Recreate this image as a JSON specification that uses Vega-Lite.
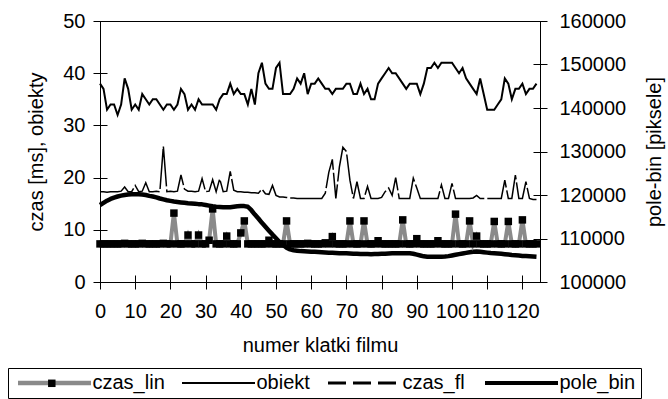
{
"$schema": "https://vega.github.io/schema/vega-lite/v6.json",
"width": 440, "height": 261,
"autosize": {"type": "none"},
"padding": {"left": 100, "top": 21, "right": 128, "bottom": 117},
"background": "white",
"config": {
  "font": "Liberation Sans",
  "view": {"stroke": "black", "strokeWidth": 1},
  "axis": {"labelFont": "Liberation Sans", "labelFontSize": 20, "titleFont": "Liberation Sans", "titleFontSize": 20, "titleFontWeight": "normal", "labelColor": "black", "titleColor": "black", "domain": false, "tickColor": "black", "tickSize": 14, "offset": -7, "grid": false, "labelPadding": 8, "labelOverlap": false, "labelFlush": false}
},
"data": {"values": [
{"f":0,"czas_lin":7.3,"obiekt":38,"czas_fl":17.3,"pole_bin":117700},
{"f":1,"czas_lin":7.3,"obiekt":37,"czas_fl":17.3,"pole_bin":118200},
{"f":2,"czas_lin":7.3,"obiekt":33,"czas_fl":17.2,"pole_bin":118700},
{"f":3,"czas_lin":7.3,"obiekt":34,"czas_fl":17.3,"pole_bin":119100},
{"f":4,"czas_lin":7.3,"obiekt":34,"czas_fl":17.3,"pole_bin":119400},
{"f":5,"czas_lin":7.3,"obiekt":32,"czas_fl":17.3,"pole_bin":119650},
{"f":6,"czas_lin":7.3,"obiekt":34,"czas_fl":17.4,"pole_bin":119850},
{"f":7,"czas_lin":7.4,"obiekt":39,"czas_fl":18.2,"pole_bin":120000},
{"f":8,"czas_lin":7.3,"obiekt":37,"czas_fl":17.3,"pole_bin":120100},
{"f":9,"czas_lin":7.3,"obiekt":33,"czas_fl":17.3,"pole_bin":120150},
{"f":10,"czas_lin":7.3,"obiekt":34,"czas_fl":18.5,"pole_bin":120160},
{"f":11,"czas_lin":7.3,"obiekt":33,"czas_fl":17.3,"pole_bin":120150},
{"f":12,"czas_lin":7.4,"obiekt":36,"czas_fl":17.4,"pole_bin":120100},
{"f":13,"czas_lin":7.3,"obiekt":35,"czas_fl":19.0,"pole_bin":120000},
{"f":14,"czas_lin":7.3,"obiekt":34,"czas_fl":17.3,"pole_bin":119800},
{"f":15,"czas_lin":7.3,"obiekt":35,"czas_fl":17.3,"pole_bin":119650},
{"f":16,"czas_lin":7.3,"obiekt":35,"czas_fl":17.4,"pole_bin":119450},
{"f":17,"czas_lin":7.3,"obiekt":34,"czas_fl":17.3,"pole_bin":119200},
{"f":18,"czas_lin":7.4,"obiekt":33,"czas_fl":26.0,"pole_bin":119000},
{"f":19,"czas_lin":7.3,"obiekt":34,"czas_fl":17.3,"pole_bin":118800},
{"f":20,"czas_lin":7.3,"obiekt":34,"czas_fl":17.4,"pole_bin":118650},
{"f":21,"czas_lin":13.2,"obiekt":33,"czas_fl":17.3,"pole_bin":118500},
{"f":22,"czas_lin":7.3,"obiekt":34,"czas_fl":17.4,"pole_bin":118400},
{"f":23,"czas_lin":7.3,"obiekt":37,"czas_fl":20.5,"pole_bin":118300},
{"f":24,"czas_lin":7.3,"obiekt":36,"czas_fl":17.8,"pole_bin":118200},
{"f":25,"czas_lin":9.0,"obiekt":33,"czas_fl":17.4,"pole_bin":118100},
{"f":26,"czas_lin":7.3,"obiekt":34,"czas_fl":17.4,"pole_bin":118050},
{"f":27,"czas_lin":7.3,"obiekt":33,"czas_fl":17.3,"pole_bin":118000},
{"f":28,"czas_lin":9.0,"obiekt":35,"czas_fl":17.4,"pole_bin":117900},
{"f":29,"czas_lin":7.3,"obiekt":34,"czas_fl":19.8,"pole_bin":117850},
{"f":30,"czas_lin":7.3,"obiekt":34,"czas_fl":17.3,"pole_bin":117700},
{"f":31,"czas_lin":8.0,"obiekt":34,"czas_fl":17.4,"pole_bin":117550},
{"f":32,"czas_lin":14.0,"obiekt":34,"czas_fl":19.6,"pole_bin":117400},
{"f":33,"czas_lin":7.3,"obiekt":33,"czas_fl":17.3,"pole_bin":117300},
{"f":34,"czas_lin":7.3,"obiekt":35,"czas_fl":19.8,"pole_bin":117250},
{"f":35,"czas_lin":7.3,"obiekt":36,"czas_fl":17.3,"pole_bin":117200},
{"f":36,"czas_lin":8.8,"obiekt":36,"czas_fl":17.4,"pole_bin":117170},
{"f":37,"czas_lin":7.3,"obiekt":38,"czas_fl":21.2,"pole_bin":117200},
{"f":38,"czas_lin":7.3,"obiekt":36,"czas_fl":17.6,"pole_bin":117300},
{"f":39,"czas_lin":7.3,"obiekt":37,"czas_fl":17.3,"pole_bin":117400},
{"f":40,"czas_lin":9.4,"obiekt":36,"czas_fl":17.3,"pole_bin":117470},
{"f":41,"czas_lin":11.7,"obiekt":36,"czas_fl":17.2,"pole_bin":117450},
{"f":42,"czas_lin":7.3,"obiekt":34,"czas_fl":17.2,"pole_bin":117300},
{"f":43,"czas_lin":7.3,"obiekt":37,"czas_fl":17.1,"pole_bin":116500},
{"f":44,"czas_lin":7.3,"obiekt":34,"czas_fl":17.1,"pole_bin":115500},
{"f":45,"czas_lin":7.3,"obiekt":40,"czas_fl":17.0,"pole_bin":114600},
{"f":46,"czas_lin":7.3,"obiekt":42,"czas_fl":17.8,"pole_bin":113600},
{"f":47,"czas_lin":7.3,"obiekt":38,"czas_fl":16.9,"pole_bin":112700},
{"f":48,"czas_lin":8.0,"obiekt":37,"czas_fl":16.8,"pole_bin":111800},
{"f":49,"czas_lin":7.3,"obiekt":37,"czas_fl":18.5,"pole_bin":110900},
{"f":50,"czas_lin":7.3,"obiekt":41,"czas_fl":16.6,"pole_bin":110050},
{"f":51,"czas_lin":7.3,"obiekt":42,"czas_fl":16.3,"pole_bin":109200},
{"f":52,"czas_lin":7.3,"obiekt":36,"czas_fl":16.3,"pole_bin":108500},
{"f":53,"czas_lin":11.7,"obiekt":36,"czas_fl":16.2,"pole_bin":107900},
{"f":54,"czas_lin":7.3,"obiekt":36,"czas_fl":16.1,"pole_bin":107500},
{"f":55,"czas_lin":7.3,"obiekt":37,"czas_fl":16.1,"pole_bin":107300},
{"f":56,"czas_lin":7.3,"obiekt":39,"czas_fl":16.0,"pole_bin":107200},
{"f":57,"czas_lin":7.3,"obiekt":38,"czas_fl":16.0,"pole_bin":107100},
{"f":58,"czas_lin":7.3,"obiekt":40,"czas_fl":16.0,"pole_bin":107050},
{"f":59,"czas_lin":7.4,"obiekt":36,"czas_fl":16.0,"pole_bin":107000},
{"f":60,"czas_lin":7.3,"obiekt":38,"czas_fl":16.0,"pole_bin":106950},
{"f":61,"czas_lin":7.3,"obiekt":38,"czas_fl":16.0,"pole_bin":106950},
{"f":62,"czas_lin":7.3,"obiekt":39,"czas_fl":16.0,"pole_bin":106900},
{"f":63,"czas_lin":7.3,"obiekt":38,"czas_fl":16.0,"pole_bin":106850},
{"f":64,"czas_lin":7.5,"obiekt":37,"czas_fl":17.0,"pole_bin":106800},
{"f":65,"czas_lin":7.3,"obiekt":37,"czas_fl":21.0,"pole_bin":106750},
{"f":66,"czas_lin":8.7,"obiekt":36,"czas_fl":23.5,"pole_bin":106700},
{"f":67,"czas_lin":7.3,"obiekt":37,"czas_fl":16.0,"pole_bin":106650},
{"f":68,"czas_lin":7.3,"obiekt":37,"czas_fl":22.0,"pole_bin":106600},
{"f":69,"czas_lin":7.3,"obiekt":37,"czas_fl":25.8,"pole_bin":106600},
{"f":70,"czas_lin":7.3,"obiekt":38,"czas_fl":25.0,"pole_bin":106600},
{"f":71,"czas_lin":11.7,"obiekt":38,"czas_fl":19.5,"pole_bin":106550},
{"f":72,"czas_lin":7.3,"obiekt":36,"czas_fl":16.0,"pole_bin":106500},
{"f":73,"czas_lin":7.3,"obiekt":36,"czas_fl":19.2,"pole_bin":106500},
{"f":74,"czas_lin":7.3,"obiekt":38,"czas_fl":16.0,"pole_bin":106450},
{"f":75,"czas_lin":11.7,"obiekt":36,"czas_fl":16.0,"pole_bin":106450},
{"f":76,"czas_lin":7.3,"obiekt":37,"czas_fl":18.3,"pole_bin":106450},
{"f":77,"czas_lin":7.3,"obiekt":35,"czas_fl":16.0,"pole_bin":106400},
{"f":78,"czas_lin":7.3,"obiekt":35,"czas_fl":16.0,"pole_bin":106450},
{"f":79,"czas_lin":7.9,"obiekt":38,"czas_fl":16.0,"pole_bin":106450},
{"f":80,"czas_lin":7.3,"obiekt":39,"czas_fl":16.2,"pole_bin":106500},
{"f":81,"czas_lin":7.3,"obiekt":40,"czas_fl":17.3,"pole_bin":106500},
{"f":82,"czas_lin":7.3,"obiekt":41,"czas_fl":18.0,"pole_bin":106550},
{"f":83,"czas_lin":7.3,"obiekt":40,"czas_fl":16.6,"pole_bin":106600},
{"f":84,"czas_lin":7.3,"obiekt":40,"czas_fl":20.0,"pole_bin":106600},
{"f":85,"czas_lin":7.3,"obiekt":39,"czas_fl":16.0,"pole_bin":106600},
{"f":86,"czas_lin":11.9,"obiekt":38,"czas_fl":16.0,"pole_bin":106600},
{"f":87,"czas_lin":7.3,"obiekt":37,"czas_fl":16.0,"pole_bin":106600},
{"f":88,"czas_lin":7.3,"obiekt":38,"czas_fl":16.0,"pole_bin":106600},
{"f":89,"czas_lin":7.3,"obiekt":38,"czas_fl":19.9,"pole_bin":106500},
{"f":90,"czas_lin":8.3,"obiekt":38,"czas_fl":18.0,"pole_bin":106300},
{"f":91,"czas_lin":7.3,"obiekt":36,"czas_fl":16.0,"pole_bin":106100},
{"f":92,"czas_lin":7.3,"obiekt":38,"czas_fl":16.0,"pole_bin":105900},
{"f":93,"czas_lin":7.3,"obiekt":41,"czas_fl":16.0,"pole_bin":105800},
{"f":94,"czas_lin":7.3,"obiekt":41,"czas_fl":16.0,"pole_bin":105800},
{"f":95,"czas_lin":7.3,"obiekt":42,"czas_fl":16.0,"pole_bin":105800},
{"f":96,"czas_lin":7.9,"obiekt":41,"czas_fl":16.0,"pole_bin":105800},
{"f":97,"czas_lin":7.3,"obiekt":42,"czas_fl":18.6,"pole_bin":105800},
{"f":98,"czas_lin":7.3,"obiekt":42,"czas_fl":16.0,"pole_bin":105850},
{"f":99,"czas_lin":7.3,"obiekt":42,"czas_fl":16.0,"pole_bin":105950},
{"f":100,"czas_lin":7.3,"obiekt":42,"czas_fl":18.9,"pole_bin":106100},
{"f":101,"czas_lin":13.0,"obiekt":41,"czas_fl":16.0,"pole_bin":106250},
{"f":102,"czas_lin":7.3,"obiekt":40,"czas_fl":16.0,"pole_bin":106400},
{"f":103,"czas_lin":7.3,"obiekt":41,"czas_fl":16.0,"pole_bin":106550},
{"f":104,"czas_lin":7.3,"obiekt":39,"czas_fl":16.0,"pole_bin":106700},
{"f":105,"czas_lin":11.7,"obiekt":38,"czas_fl":16.0,"pole_bin":106850},
{"f":106,"czas_lin":7.3,"obiekt":37,"czas_fl":16.1,"pole_bin":106950},
{"f":107,"czas_lin":8.8,"obiekt":36,"czas_fl":16.6,"pole_bin":107000},
{"f":108,"czas_lin":7.3,"obiekt":39,"czas_fl":16.0,"pole_bin":106950},
{"f":109,"czas_lin":7.3,"obiekt":36,"czas_fl":16.0,"pole_bin":106850},
{"f":110,"czas_lin":7.3,"obiekt":33,"czas_fl":16.0,"pole_bin":106750},
{"f":111,"czas_lin":7.3,"obiekt":33,"czas_fl":16.0,"pole_bin":106650},
{"f":112,"czas_lin":11.6,"obiekt":33,"czas_fl":16.0,"pole_bin":106600},
{"f":113,"czas_lin":7.3,"obiekt":34,"czas_fl":16.0,"pole_bin":106550},
{"f":114,"czas_lin":7.3,"obiekt":35,"czas_fl":16.0,"pole_bin":106500},
{"f":115,"czas_lin":7.3,"obiekt":39,"czas_fl":19.5,"pole_bin":106400},
{"f":116,"czas_lin":11.6,"obiekt":38,"czas_fl":16.0,"pole_bin":106300},
{"f":117,"czas_lin":7.3,"obiekt":35,"czas_fl":16.0,"pole_bin":106200},
{"f":118,"czas_lin":7.3,"obiekt":37,"czas_fl":20.5,"pole_bin":106150},
{"f":119,"czas_lin":7.3,"obiekt":37,"czas_fl":16.0,"pole_bin":106100},
{"f":120,"czas_lin":11.9,"obiekt":38,"czas_fl":16.0,"pole_bin":106000},
{"f":121,"czas_lin":7.3,"obiekt":36,"czas_fl":19.2,"pole_bin":105950},
{"f":122,"czas_lin":7.3,"obiekt":37,"czas_fl":16.0,"pole_bin":105900},
{"f":123,"czas_lin":7.3,"obiekt":37,"czas_fl":15.8,"pole_bin":105850},
{"f":124,"czas_lin":7.3,"obiekt":38,"czas_fl":15.8,"pole_bin":105800}
]},
"encoding": {
  "x": {"field": "f", "type": "quantitative", "scale": {"domain": [0, 125], "nice": false, "zero": false},
        "axis": {"values": [0,10,20,30,40,50,60,70,80,90,100,110,120], "title": "numer klatki filmu", "labelPadding": 12, "titlePadding": 14}}
},
"layer": [
  {
    "mark": {"type": "line", "strokeWidth": 4.5, "strokeJoin": "round"},
    "encoding": {
      "y": {"field": "pole_bin", "type": "quantitative", "scale": {"domain": [100000, 160000], "nice": false, "zero": false},
            "axis": {"orient": "right", "title": "pole-bin [piksele]", "values": [100000,110000,120000,130000,140000,150000,160000], "format": "d", "labelPadding": 12, "titleAngle": 270, "titlePadding": 39}},
      "color": {"datum": "pole_bin"}
    }
  },
  {
    "layer": [
      {
        "mark": {"type": "line", "strokeWidth": 1.5, "strokeDash": [40, 3]},
        "encoding": {
          "y": {"field": "czas_fl", "type": "quantitative", "scale": {"domain": [0, 50], "nice": false},
                "axis": {"orient": "left", "title": "czas [ms], obiekty", "values": [0,5,10,15,20,25,30,35,40,45,50], "titlePadding": 16}},
          "color": {"datum": "czas_fl", "scale": {"domain": ["czas_lin", "obiekt", "czas_fl", "pole_bin"], "range": ["#8a8a8a", "#000000", "#000000", "#000000"]},
                    "legend": {"orient": "none", "legendX": -92, "legendY": 347, "direction": "horizontal", "title": null,
                               "strokeColor": "black", "padding": 5, "symbolType": "M-7.3,0H7.3", "symbolSize": 100, "symbolOffset": 31.5, "labelOffset": 28, "columnPadding": 12,
                               "labelFontSize": 20, "labelFont": "Liberation Sans", "labelColor": "black",
                               "encode": {"symbols": {"update": {"strokeDash": {"signal": "datum.value === 'czas_fl' ? [18,7] : [1,0]"}, "strokeWidth": {"signal": "datum.value === 'czas_lin' ? 4.5 : datum.value === 'pole_bin' ? 4 : datum.value === 'czas_fl' ? 3 : 2"}}}}}}
        }
      },
      {
        "mark": {"type": "line", "strokeWidth": 2},
        "encoding": {
          "y": {"field": "obiekt", "type": "quantitative", "scale": {"domain": [0, 50], "nice": false}},
          "color": {"datum": "obiekt"}
        }
      },
      {
        "mark": {"type": "line", "strokeWidth": 4},
        "encoding": {
          "y": {"field": "czas_lin", "type": "quantitative", "scale": {"domain": [0, 50], "nice": false}},
          "color": {"datum": "czas_lin"}
        }
      },
      {
        "mark": {"type": "point", "size": 56, "filled": true, "opacity": 1, "color": "black"},
        "encoding": {
          "y": {"field": "czas_lin", "type": "quantitative", "scale": {"domain": [0, 50], "nice": false}},
          "shape": {"datum": "czas_lin", "scale": {"domain": ["czas_lin"], "range": ["square"]},
                    "legend": {"orient": "none", "legendX": -52.2, "legendY": 358.3, "title": null, "padding": 0, "symbolSize": 56, "symbolFillColor": "black", "symbolStrokeWidth": 0, "labelOpacity": 0, "labelFontSize": 1}}
        }
      }
    ]
  }
],
"resolve": {"scale": {"y": "independent"}}
}
